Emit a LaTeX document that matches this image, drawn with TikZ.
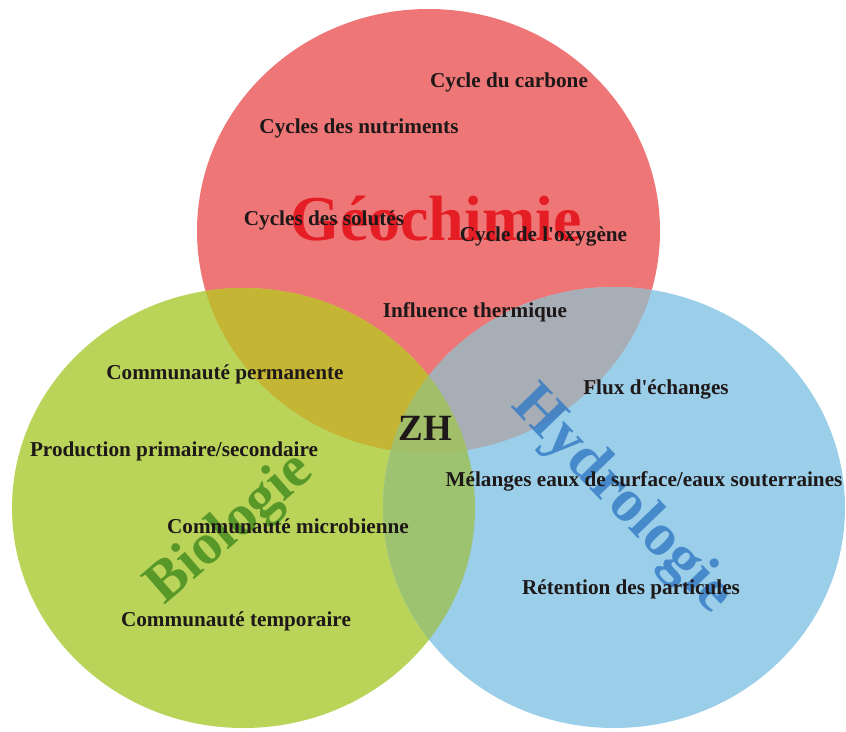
\documentclass[tikz,border=0pt]{standalone}
\usepackage{fontspec}
\setmainfont{Liberation Serif}[Ligatures=TeXOff]
\definecolor{cred}{RGB}{238,118,118}
\definecolor{cgreen}{RGB}{186,212,90}
\definecolor{cblue}{RGB}{155,206,232}
\definecolor{crg}{RGB}{196,182,52}
\definecolor{crb}{RGB}{168,174,182}
\definecolor{cgb}{RGB}{157,195,112}
\definecolor{crgb}{RGB}{162,190,104}
\definecolor{ctext}{RGB}{30,24,24}
\definecolor{lred}{RGB}{228,30,36}
\definecolor{lgreen}{RGB}{88,152,40}
\definecolor{lblue}{RGB}{50,122,198}
\tikzset{
  item/.style={font=\bfseries\fontsize{21.2}{24}\selectfont, text=ctext, anchor=base, inner sep=0pt},
  biglabel/.style={font=\bfseries\fontsize{64}{70}\selectfont, inner sep=0pt}
}
\begin{document}
\begin{tikzpicture}[x=1pt,y=-1pt]
\useasboundingbox (0,0) rectangle (846,731);
\fill[white] (0,0) rectangle (846,731);
% circles
\def\redE{(428.5,231) ellipse [x radius=231.5, y radius=222]}
\def\greenE{(243.5,508) ellipse [x radius=231.5, y radius=220]}
\def\blueE{(614,507.5) ellipse [x radius=231, y radius=220.5]}
\fill[cred] \redE;
\fill[cgreen] \greenE;
\fill[cblue] \blueE;
\begin{scope}
  \clip \redE;
  \fill[crg] \greenE;
  \fill[crb] \blueE;
\end{scope}
\begin{scope}
  \clip \greenE;
  \fill[cgb] \blueE;
\end{scope}
\begin{scope}
  \clip \redE;
  \clip \greenE;
  \fill[crgb] \blueE;
\end{scope}
% big labels
\node[biglabel, text=lred, anchor=base] (geo) at (436,240) {Géochimie};
\node[biglabel, text=lgreen, rotate=41, font=\bfseries\fontsize{58}{64}\selectfont] (bio) at (231,530) {Biologie};
\node[biglabel, text=lblue, text opacity=0.8, rotate=-46, font=\bfseries\fontsize{61}{66}\selectfont] (hyd) at (622,501) {Hydrologie};
% items
\node[item] (c1) at (509,87) {Cycle du carbone};
\node[item] (c2) at (359,133) {Cycles des nutriments};
\node[item] (c3) at (324,225) {Cycles des solutés};
\node[item] (c4) at (543.5,241) {Cycle de l'oxygène};
\node[item] (c5) at (475,317) {Influence thermique};
\node[item] (b1) at (225,379) {Communauté permanente};
\node[item] (b2) at (174,456) {Production primaire/secondaire};
\node[item] (b3) at (288,533) {Communauté microbienne};
\node[item] (b4) at (236,626) {Communauté temporaire};
\node[item] (h1) at (656,394) {Flux d'échanges};
\node[item] (h2) at (644,486) {Mélanges eaux de surface/eaux souterraines};
\node[item] (h3) at (631,594) {Rétention des particules};
\node[item, font=\bfseries\fontsize{37}{40}\selectfont] (zh) at (425.5,440) {ZH};
\end{tikzpicture}
\end{document}
